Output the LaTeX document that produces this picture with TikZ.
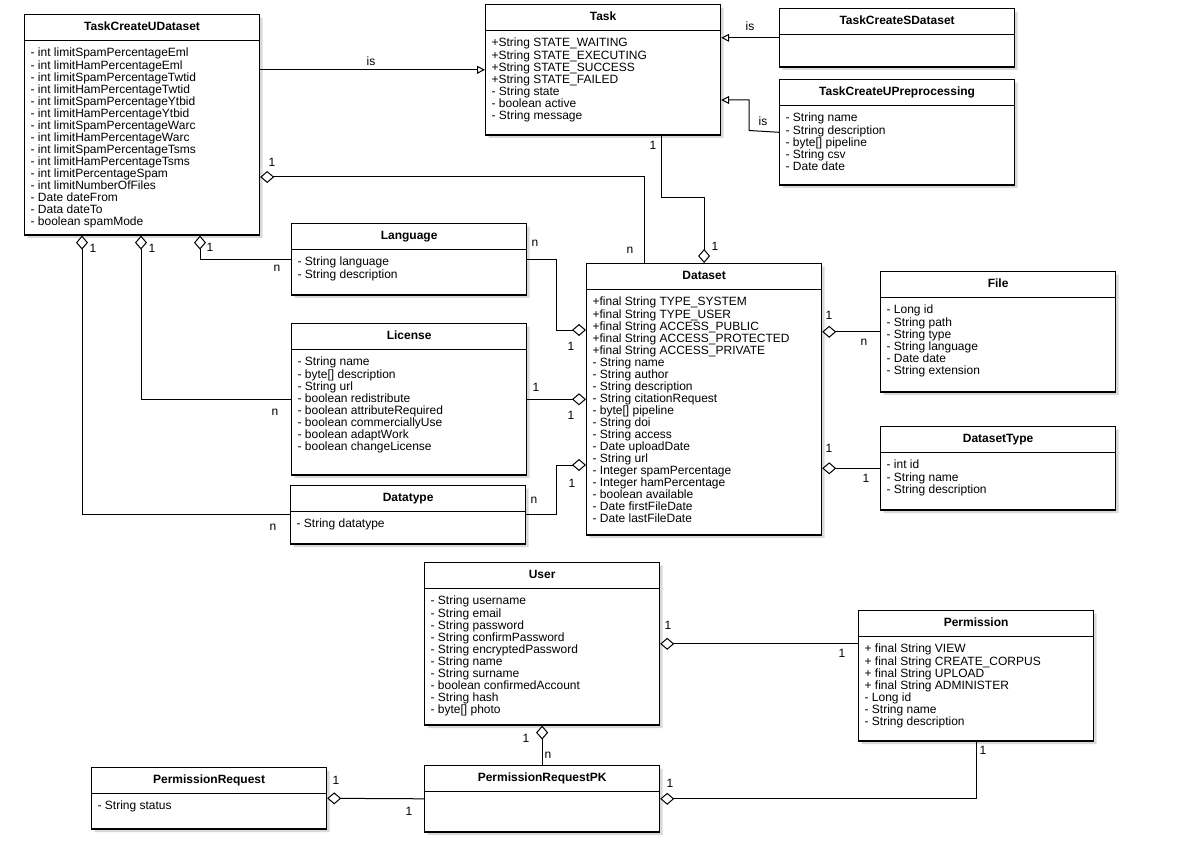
\documentclass[tikz,border=0pt]{standalone}
\usepackage{fontspec}
\setmainfont{Liberation Sans}
\usetikzlibrary{shapes.multipart,shadows,arrows.meta}

\newcommand{\ctitle}[1]{\parbox[c][25pt]{235pt}{\centering\bfseries\strut #1}}
\newcommand{\cbody}[2]{\parbox[c][#1pt][t]{235pt}{\raggedright\leftskip=6pt\vspace*{6pt}\strut #2}}

\begin{document}
\begin{tikzpicture}[x=1pt, y=-1pt, font=\fontsize{12}{12}\selectfont,
  classbox/.style={rectangle split, rectangle split parts=2, draw, line width=1.2pt,
    fill=white, inner xsep=0pt, inner ysep=0pt, anchor=north west,
    drop shadow={shadow xshift=3pt, shadow yshift=-3pt, opacity=0.3}},
  agg/.style={{Diamond[fill=white,length=14pt,width=12pt]}-, line width=1pt},
  gen/.style={-{Triangle[fill=white,length=8pt,width=8pt]}, line width=1pt},
  mult/.style={inner sep=0pt}]
\useasboundingbox (0,0) rectangle (1191,842);

% classes
\node [classbox] (tcud) at (24,14) {\ctitle{TaskCreateUDataset}
  \nodepart{second}\cbody{193}{- int limitSpamPercentageEml\\
  - int limitHamPercentageEml\\
  - int limitSpamPercentageTwtid\\
  - int limitHamPercentageTwtid\\
  - int limitSpamPercentageYtbid\\
  - int limitHamPercentageYtbid\\
  - int limitSpamPercentageWarc\\
  - int limitHamPercentageWarc\\
  - int limitSpamPercentageTsms\\
  - int limitHamPercentageTsms\\
  - int limitPercentageSpam\\
  - int limitNumberOfFiles\\
  - Date dateFrom\\
  - Data dateTo\\
  - boolean spamMode}};
\node [classbox] (task) at (485,4) {\ctitle{Task}
  \nodepart{second}\cbody{103}{+String STATE\_WAITING\\
  +String STATE\_EXECUTING\\
  +String STATE\_SUCCESS\\
  +String STATE\_FAILED\\
  - String state\\
  - boolean active\\
  - String message}};
\node [classbox] (tcsd) at (779,8) {\ctitle{TaskCreateSDataset}
  \nodepart{second}\cbody{31}{}};
\node [classbox] (tcup) at (779,79) {\ctitle{TaskCreateUPreprocessing}
  \nodepart{second}\cbody{78}{- String name\\
  - String description\\
  - byte[] pipeline\\
  - String csv\\
  - Date date}};
\node [classbox] (lang) at (291,223) {\ctitle{Language}
  \nodepart{second}\cbody{44}{- String language\\
  - String description}};
\node [classbox] (lic) at (291,323) {\ctitle{License}
  \nodepart{second}\cbody{124}{- String name\\
  - byte[] description\\
  - String url\\
  - boolean redistribute\\
  - boolean attributeRequired\\
  - boolean commerciallyUse\\
  - boolean adaptWork\\
  - boolean changeLicense}};
\node [classbox] (dtype) at (290,485) {\ctitle{Datatype}
  \nodepart{second}\cbody{31}{- String datatype}};
\node [classbox] (dset) at (586,263) {\ctitle{Dataset}
  \nodepart{second}\cbody{244}{+final String TYPE\_SYSTEM\\
  +final String TYPE\_USER\\
  +final String ACCESS\_PUBLIC\\
  +final String ACCESS\_PROTECTED\\
  +final String ACCESS\_PRIVATE\\
  - String name\\
  - String author\\
  - String description\\
  - String citationRequest\\
  - byte[] pipeline\\
  - String doi\\
  - String access\\
  - Date uploadDate\\
  - String url\\
  - Integer spamPercentage\\
  - Integer hamPercentage\\
  - boolean available\\
  - Date firstFileDate\\
  - Date lastFileDate}};
\node [classbox] (file) at (880,271) {\ctitle{File}
  \nodepart{second}\cbody{93}{- Long id\\
  - String path\\
  - String type\\
  - String language\\
  - Date date\\
  - String extension}};
\node [classbox] (dstype) at (880,426) {\ctitle{DatasetType}
  \nodepart{second}\cbody{56}{- int id\\
  - String name\\
  - String description}};
\node [classbox] (user) at (424,562) {\ctitle{User}
  \nodepart{second}\cbody{135}{- String username\\
  - String email\\
  - String password\\
  - String confirmPassword\\
  - String encryptedPassword\\
  - String name\\
  - String surname\\
  - boolean confirmedAccount\\
  - String hash\\
  - byte[] photo}};
\node [classbox] (perm) at (858,610) {\ctitle{Permission}
  \nodepart{second}\cbody{103}{+ final String VIEW\\
  + final String CREATE\_CORPUS\\
  + final String UPLOAD\\
  + final String ADMINISTER\\
  - Long id\\
  - String name\\
  - String description}};
\node [classbox] (preq) at (91,767) {\ctitle{PermissionRequest}
  \nodepart{second}\cbody{34}{- String status}};
\node [classbox] (prpk) at (424,765) {\ctitle{PermissionRequestPK}
  \nodepart{second}\cbody{39}{}};

% inheritance
\draw [gen] (tcud.east |- task.west) -- (task.west);
\draw [gen] (tcsd.west) -- (task.east |- tcsd.west);
\draw [gen] (tcup.west) -- (749,130.5) |- (task.east |- 0,100);
\node [mult] (is1) at (371,61) {is};
\node [mult] (is2) at (750,26) {is};
\node [mult] (is3) at (763,121) {is};

% associations
\draw [agg] (dset.north) |- (661,198) -- (task.south -| 661,0);
\draw [agg] (tcud.east |- 0,177) -| (dset.north -| 644,0);
\draw [agg] (tcud.south -| 200,0) |- (lang.west);
\draw [agg] (tcud.south -| 141,0) |- (lic.west);
\draw [agg] (tcud.south -| 82,0) |- (dtype.west);
\draw [agg] (dset.west |- 0,330) -- (556,330) |- (lang.east);
\draw [agg] (dset.west |- lic.east) -- (lic.east);
\draw [agg] (dset.west |- 0,465) -- (556,465) |- (dtype.east);
\draw [agg] (dset.east |- file.west) -- (file.west);
\draw [agg] (dset.east |- dstype.west) -- (dstype.west);
\draw [agg] (user.east) -- (perm.west |- user.east);
\draw [agg] (user.south) -- (prpk.north);
\draw [agg] (preq.east) -- (prpk.west);
\draw [agg] (prpk.east) -| (perm.south);

% multiplicities
\node [mult] (m1) at (653,145) {1};
\node [mult] (m2) at (715,246) {1};
\node [mult] (m3) at (272,162) {1};
\node [mult] (m4) at (630,250) {n};
\node [mult] (m5) at (210,247) {1};
\node [mult] (m6) at (277,268) {n};
\node [mult] (m7) at (152,248) {1};
\node [mult] (m8) at (275,412) {n};
\node [mult] (m9) at (93,248) {1};
\node [mult] (m10) at (273,527) {n};
\node [mult] (m11) at (535,243) {n};
\node [mult] (m12) at (571,346) {1};
\node [mult] (m13) at (536,387) {1};
\node [mult] (m14) at (571,415) {1};
\node [mult] (m15) at (534,500) {n};
\node [mult] (m16) at (572,483) {1};
\node [mult] (m17) at (829,315) {1};
\node [mult] (m18) at (864,342) {n};
\node [mult] (m19) at (829,448) {1};
\node [mult] (m20) at (866,478) {1};
\node [mult] (m21) at (668,625) {1};
\node [mult] (m22) at (842,653) {1};
\node [mult] (m23) at (526,738) {1};
\node [mult] (m24) at (548,755) {n};
\node [mult] (m25) at (336,780) {1};
\node [mult] (m26) at (409,811) {1};
\node [mult] (m27) at (670,783) {1};
\node [mult] (m28) at (983,750) {1};
\end{tikzpicture}
\end{document}
